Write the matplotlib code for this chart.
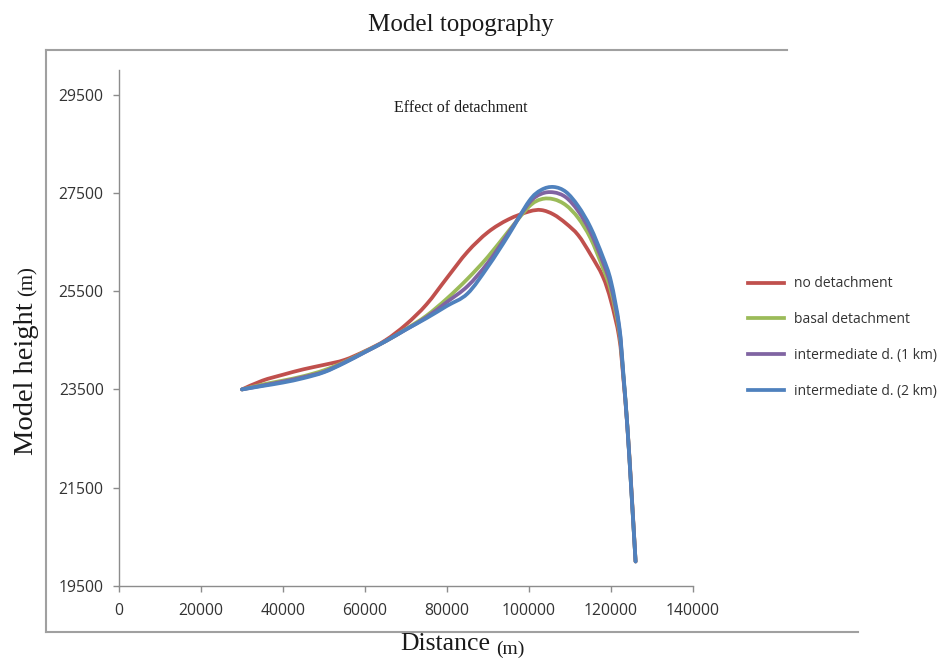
import matplotlib
matplotlib.use('Agg')
import numpy as np
import matplotlib.pyplot as plt
from matplotlib.lines import Line2D
from matplotlib.path import Path
from matplotlib.patches import PathPatch

# Distance along the model (m)
distance = [30000, 35000, 40000, 45000, 50000, 55000, 60000, 65000, 70000,
            75000, 80000, 85000, 90000, 95000, 100000, 103000, 106000, 109000,
            112000, 115000, 118000, 120000, 122000, 123000, 124000, 125000, 126000]

# Model height (m) for each case
no_detachment = [23500, 23680, 23800, 23910, 24000, 24100, 24280, 24500, 24820,
                 25230, 25770, 26300, 26700, 26960, 27120, 27150, 27060, 26880,
                 26640, 26250, 25800, 25300, 24560, 23750, 22750, 21450, 20000]
basal_detachment = [23500, 23600, 23680, 23770, 23890, 24060, 24270, 24480, 24730,
                    25000, 25350, 25750, 26200, 26720, 27220, 27370, 27370, 27250,
                    26990, 26580, 25980, 25500, 24680, 23800, 22750, 21400, 20000]
intermediate_1km = [23500, 23580, 23660, 23750, 23860, 24050, 24260, 24480, 24720,
                    24970, 25280, 25600, 26080, 26680, 27290, 27480, 27510, 27410,
                    27130, 26700, 26100, 25600, 24750, 23800, 22730, 21400, 20000]
intermediate_2km = [23500, 23570, 23640, 23730, 23850, 24040, 24260, 24480, 24720,
                    24950, 25200, 25450, 26000, 26640, 27330, 27560, 27620, 27520,
                    27230, 26800, 26200, 25700, 24800, 23850, 22750, 21400, 20000]

labels = ['no detachment', 'basal detachment', 'intermediate d. (1 km)', 'intermediate d. (2 km)']
colors = ['#C0504D', '#9BBB59', '#8064A2', '#4F81BD']

x_ticks = [0, 20000, 40000, 60000, 80000, 100000, 120000, 140000]
y_ticks = [19500, 21500, 23500, 25500, 27500, 29500]


def smooth_path(x, y):
    # Excel-style smoothed line: Catmull-Rom segments drawn as cubic Beziers
    pts = np.column_stack([x, y]).astype(float)
    verts = [pts[0]]
    codes = [Path.MOVETO]
    n = len(pts)
    for i in range(n - 1):
        p0 = pts[i - 1] if i > 0 else pts[i]
        p1 = pts[i]
        p2 = pts[i + 1]
        p3 = pts[i + 2] if i + 2 < n else pts[i + 1]
        c1 = p1 + (p2 - p0) / 6.0
        c2 = p2 - (p3 - p1) / 6.0
        verts += [c1, c2, p2]
        codes += [Path.CURVE4] * 3
    return Path(verts, codes)


fig = plt.figure(figsize=(9.4, 6.66), dpi=100)
ax = fig.add_axes([0.1266, 0.1201, 0.6106, 0.7748])

series = [no_detachment, basal_detachment, intermediate_1km, intermediate_2km]
handles = []
for vals, lab, col in zip(series, labels, colors):
    patch = PathPatch(smooth_path(distance, vals), facecolor='none', edgecolor=col,
                      lw=2.7, capstyle='round', joinstyle='round')
    ax.add_patch(patch)
    handles.append(Line2D([], [], color=col, lw=2.7, label=lab))

ax.set_xlim(0, 140000)
ax.set_ylim(19500, 30000)
ax.set_xticks(x_ticks)
ax.set_yticks(y_ticks)
ax.set_xticklabels([str(t) for t in x_ticks])
ax.set_yticklabels([str(t) for t in y_ticks])

for side in ['top', 'right']:
    ax.spines[side].set_visible(False)
for side in ['left', 'bottom']:
    ax.spines[side].set_color('#8C8C8C')
    ax.spines[side].set_linewidth(1.0)
ax.tick_params(direction='out', length=4, width=1, color='#8C8C8C',
               labelsize=11.3, labelcolor='#333333')
ax.tick_params(axis='x', pad=8)
ax.tick_params(axis='y', pad=7)
for t in ax.get_xticklabels() + ax.get_yticklabels():
    t.set_family('Open Sans')

# Text in Times-like serif
serif = 'Liberation Serif'
fig.text(0.490, 0.962, 'Model topography', ha='center', va='center', fontsize=18, family=serif, color='#1a1a1a')
ax.text(0.595, 0.926, 'Effect of detachment', transform=ax.transAxes, ha='center', va='center',
        fontsize=11.5, family=serif, color='#1a1a1a')
fig.text(0.474, 0.017, 'Distance', ha='center', va='bottom', fontsize=18.5, family=serif, color='#1a1a1a')
fig.text(0.543, 0.012, '(m)', ha='center', va='bottom', fontsize=14, family=serif, color='#1a1a1a')
fig.text(0.028, 0.317, 'Model height', ha='center', va='bottom', rotation=90, fontsize=20.5,
         family=serif, color='#1a1a1a')
fig.text(0.030, 0.555, '(m)', ha='center', va='bottom', rotation=90, fontsize=15,
         family=serif, color='#1a1a1a')

leg = ax.legend(handles=handles, loc='center left', bbox_to_anchor=(0.782, 0.493),
                bbox_transform=fig.transFigure, frameon=False, handlelength=2.6,
                handletextpad=0.75, labelspacing=1.5,
                prop={'family': 'Open Sans', 'size': 10})
for t in leg.get_texts():
    t.set_color('#333333')

# Outer chart-area border (partial, as in the original)
frame = '#A0A0A0'
fig.add_artist(Line2D([0.049, 0.837], [0.925, 0.925], color=frame, lw=1.5, transform=fig.transFigure))
fig.add_artist(Line2D([0.049, 0.913], [0.051, 0.051], color=frame, lw=1.5, transform=fig.transFigure))
fig.add_artist(Line2D([0.049, 0.049], [0.051, 0.925], color=frame, lw=1.5, transform=fig.transFigure))

fig.savefig('out.png', dpi=100)
